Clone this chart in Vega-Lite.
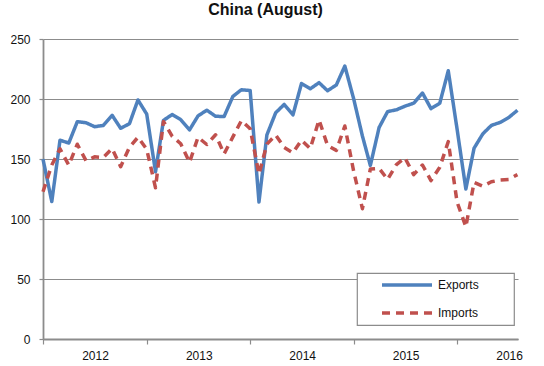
{
  "$schema": "https://vega.github.io/schema/vega-lite/v6.json",
  "width": 475,
  "height": 300,
  "autosize": {"type": "none"},
  "padding": {"left": 43, "top": 39, "right": 26, "bottom": 27},
  "background": "white",
  "title": {"text": "China (August)", "fontSize": 16, "fontWeight": "bold", "font": "Liberation Sans", "color": "#111111", "offset": 15, "dx": -15, "anchor": "middle"},
  "config": {
    "view": {"stroke": null},
    "font": "Liberation Sans",
    "legend": {"symbolType": "M-5,0H5", "symbolSize": 100, "symbolStrokeWidth": 3.5, "symbolOffset": 38, "labelOffset": 24, "labelFontSize": 12, "labelColor": "#111111", "labelFont": "Liberation Sans", "padding": 5, "rowPadding": 14, "fillColor": "white", "strokeColor": "#8c8c8c", "strokeWidth": 1.2, "cornerRadius": 0}
  },
  "data": {"values": [
    {"date": "2012-01-01", "series": "Exports", "value": 149.9},
    {"date": "2012-02-01", "series": "Exports", "value": 114.5},
    {"date": "2012-03-01", "series": "Exports", "value": 165.7},
    {"date": "2012-04-01", "series": "Exports", "value": 163.3},
    {"date": "2012-05-01", "series": "Exports", "value": 181.1},
    {"date": "2012-06-01", "series": "Exports", "value": 180.2},
    {"date": "2012-07-01", "series": "Exports", "value": 176.9},
    {"date": "2012-08-01", "series": "Exports", "value": 178.0},
    {"date": "2012-09-01", "series": "Exports", "value": 186.4},
    {"date": "2012-10-01", "series": "Exports", "value": 175.6},
    {"date": "2012-11-01", "series": "Exports", "value": 179.4},
    {"date": "2012-12-01", "series": "Exports", "value": 199.2},
    {"date": "2013-01-01", "series": "Exports", "value": 187.4},
    {"date": "2013-02-01", "series": "Exports", "value": 139.4},
    {"date": "2013-03-01", "series": "Exports", "value": 182.2},
    {"date": "2013-04-01", "series": "Exports", "value": 187.1},
    {"date": "2013-05-01", "series": "Exports", "value": 182.8},
    {"date": "2013-06-01", "series": "Exports", "value": 174.3},
    {"date": "2013-07-01", "series": "Exports", "value": 185.9},
    {"date": "2013-08-01", "series": "Exports", "value": 190.7},
    {"date": "2013-09-01", "series": "Exports", "value": 185.6},
    {"date": "2013-10-01", "series": "Exports", "value": 185.4},
    {"date": "2013-11-01", "series": "Exports", "value": 202.2},
    {"date": "2013-12-01", "series": "Exports", "value": 207.7},
    {"date": "2014-01-01", "series": "Exports", "value": 207.1},
    {"date": "2014-02-01", "series": "Exports", "value": 114.1},
    {"date": "2014-03-01", "series": "Exports", "value": 170.1},
    {"date": "2014-04-01", "series": "Exports", "value": 188.5},
    {"date": "2014-05-01", "series": "Exports", "value": 195.5},
    {"date": "2014-06-01", "series": "Exports", "value": 186.8},
    {"date": "2014-07-01", "series": "Exports", "value": 212.9},
    {"date": "2014-08-01", "series": "Exports", "value": 208.5},
    {"date": "2014-09-01", "series": "Exports", "value": 213.6},
    {"date": "2014-10-01", "series": "Exports", "value": 206.9},
    {"date": "2014-11-01", "series": "Exports", "value": 211.7},
    {"date": "2014-12-01", "series": "Exports", "value": 227.5},
    {"date": "2015-01-01", "series": "Exports", "value": 200.3},
    {"date": "2015-02-01", "series": "Exports", "value": 169.2},
    {"date": "2015-03-01", "series": "Exports", "value": 144.6},
    {"date": "2015-04-01", "series": "Exports", "value": 176.3},
    {"date": "2015-05-01", "series": "Exports", "value": 189.5},
    {"date": "2015-06-01", "series": "Exports", "value": 191.0},
    {"date": "2015-07-01", "series": "Exports", "value": 194.0},
    {"date": "2015-08-01", "series": "Exports", "value": 196.5},
    {"date": "2015-09-01", "series": "Exports", "value": 205.0},
    {"date": "2015-10-01", "series": "Exports", "value": 192.0},
    {"date": "2015-11-01", "series": "Exports", "value": 196.5},
    {"date": "2015-12-01", "series": "Exports", "value": 223.5},
    {"date": "2016-01-01", "series": "Exports", "value": 175.0},
    {"date": "2016-02-01", "series": "Exports", "value": 125.0},
    {"date": "2016-03-01", "series": "Exports", "value": 159.0},
    {"date": "2016-04-01", "series": "Exports", "value": 171.0},
    {"date": "2016-05-01", "series": "Exports", "value": 178.0},
    {"date": "2016-06-01", "series": "Exports", "value": 180.5},
    {"date": "2016-07-01", "series": "Exports", "value": 184.5},
    {"date": "2016-08-01", "series": "Exports", "value": 190.6},
    {"date": "2012-01-01", "series": "Imports", "value": 122.7},
    {"date": "2012-02-01", "series": "Imports", "value": 145.0},
    {"date": "2012-03-01", "series": "Imports", "value": 158.5},
    {"date": "2012-04-01", "series": "Imports", "value": 144.9},
    {"date": "2012-05-01", "series": "Imports", "value": 162.3},
    {"date": "2012-06-01", "series": "Imports", "value": 148.5},
    {"date": "2012-07-01", "series": "Imports", "value": 151.8},
    {"date": "2012-08-01", "series": "Imports", "value": 151.3},
    {"date": "2012-09-01", "series": "Imports", "value": 158.7},
    {"date": "2012-10-01", "series": "Imports", "value": 143.6},
    {"date": "2012-11-01", "series": "Imports", "value": 159.8},
    {"date": "2012-12-01", "series": "Imports", "value": 168.1},
    {"date": "2013-01-01", "series": "Imports", "value": 158.1},
    {"date": "2013-02-01", "series": "Imports", "value": 126.0},
    {"date": "2013-03-01", "series": "Imports", "value": 181.3},
    {"date": "2013-04-01", "series": "Imports", "value": 168.9},
    {"date": "2013-05-01", "series": "Imports", "value": 162.7},
    {"date": "2013-06-01", "series": "Imports", "value": 147.2},
    {"date": "2013-07-01", "series": "Imports", "value": 168.1},
    {"date": "2013-08-01", "series": "Imports", "value": 162.1},
    {"date": "2013-09-01", "series": "Imports", "value": 170.2},
    {"date": "2013-10-01", "series": "Imports", "value": 154.3},
    {"date": "2013-11-01", "series": "Imports", "value": 168.4},
    {"date": "2013-12-01", "series": "Imports", "value": 182.0},
    {"date": "2014-01-01", "series": "Imports", "value": 175.2},
    {"date": "2014-02-01", "series": "Imports", "value": 137.4},
    {"date": "2014-03-01", "series": "Imports", "value": 162.4},
    {"date": "2014-04-01", "series": "Imports", "value": 170.0},
    {"date": "2014-05-01", "series": "Imports", "value": 159.6},
    {"date": "2014-06-01", "series": "Imports", "value": 155.2},
    {"date": "2014-07-01", "series": "Imports", "value": 165.7},
    {"date": "2014-08-01", "series": "Imports", "value": 158.7},
    {"date": "2014-09-01", "series": "Imports", "value": 182.6},
    {"date": "2014-10-01", "series": "Imports", "value": 161.3},
    {"date": "2014-11-01", "series": "Imports", "value": 157.2},
    {"date": "2014-12-01", "series": "Imports", "value": 177.5},
    {"date": "2015-01-01", "series": "Imports", "value": 140.0},
    {"date": "2015-02-01", "series": "Imports", "value": 108.6},
    {"date": "2015-03-01", "series": "Imports", "value": 141.6},
    {"date": "2015-04-01", "series": "Imports", "value": 142.2},
    {"date": "2015-05-01", "series": "Imports", "value": 133.0},
    {"date": "2015-06-01", "series": "Imports", "value": 145.4},
    {"date": "2015-07-01", "series": "Imports", "value": 151.0},
    {"date": "2015-08-01", "series": "Imports", "value": 137.0},
    {"date": "2015-09-01", "series": "Imports", "value": 145.0},
    {"date": "2015-10-01", "series": "Imports", "value": 132.0},
    {"date": "2015-11-01", "series": "Imports", "value": 143.1},
    {"date": "2015-12-01", "series": "Imports", "value": 164.5},
    {"date": "2016-01-01", "series": "Imports", "value": 114.2},
    {"date": "2016-02-01", "series": "Imports", "value": 93.5},
    {"date": "2016-03-01", "series": "Imports", "value": 130.5},
    {"date": "2016-04-01", "series": "Imports", "value": 127.3},
    {"date": "2016-05-01", "series": "Imports", "value": 131.0},
    {"date": "2016-06-01", "series": "Imports", "value": 132.5},
    {"date": "2016-07-01", "series": "Imports", "value": 133.0},
    {"date": "2016-08-01", "series": "Imports", "value": 137.0}
  ]},
  "mark": {"type": "line", "strokeWidth": 3.5, "strokeJoin": "round"},
  "encoding": {
    "x": {
      "field": "date", "type": "temporal",
      "scale": {"type": "utc", "domain": [{"year": 2012, "month": 1, "date": 1, "utc": true}, {"year": 2016, "month": 8, "date": 3, "utc": true}]},
      "axis": {
        "title": null, "grid": false, "format": "%Y",
        "values": [{"year": 2012, "month": 1, "date": 1, "utc": true}, {"year": 2013, "month": 1, "date": 1, "utc": true}, {"year": 2014, "month": 1, "date": 1, "utc": true}, {"year": 2015, "month": 1, "date": 1, "utc": true}, {"year": 2016, "month": 1, "date": 1, "utc": true}],
        "labelOffset": 52, "labelAlign": "center", "labelFlush": false, "labelOverlap": false, "labelPadding": 6,
        "labelFontSize": 12, "labelColor": "#111111",
        "tickSize": 5, "tickColor": "#8c8c8c", "tickWidth": 1.2,
        "domainColor": "#8c8c8c", "domainWidth": 1.8
      }
    },
    "y": {
      "field": "value", "type": "quantitative",
      "scale": {"domain": [0, 250], "nice": false, "zero": true},
      "axis": {
        "title": null, "values": [0, 50, 100, 150, 200, 250],
        "grid": true, "gridColor": "#8c8c8c", "gridWidth": 1.2,
        "labelFontSize": 12, "labelColor": "#111111", "labelPadding": 9,
        "tickSize": 4, "tickColor": "#8c8c8c", "tickWidth": 1.2,
        "domainColor": "#8c8c8c", "domainWidth": 1.8
      }
    },
    "color": {
      "field": "series", "type": "nominal",
      "scale": {"domain": ["Exports", "Imports"], "range": ["#4F81BD", "#C0504D"]},
      "legend": {"orient": "none", "legendX": 314, "legendY": 234, "title": " ", "titleOrient": "right", "titlePadding": 30, "titleFontSize": 2}
    },
    "strokeDash": {
      "field": "series", "type": "nominal",
      "scale": {"domain": ["Exports", "Imports"], "range": [[1, 0], [8, 6]]},
      "legend": {"orient": "none", "legendX": 314, "legendY": 234, "title": " ", "titleOrient": "right", "titlePadding": 30, "titleFontSize": 2}
    }
  }
}
